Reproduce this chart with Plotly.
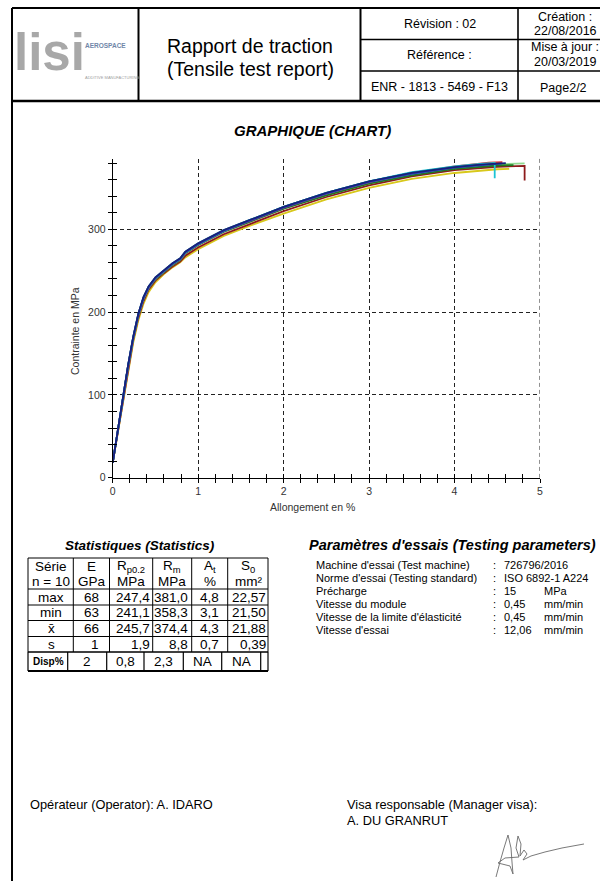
import plotly.graph_objects as go

W, H = 600, 881
FONT = "Liberation Sans, Arial, sans-serif"


def X(px):
    return px / W


def Y(py):
    return 1 - py / H


# ---------------------------------------------------------------- curve data
# Elongation grid (%) shared by the specimens
STRAIN = [0, 0.06, 0.12, 0.18, 0.24, 0.30, 0.36, 0.42, 0.50, 0.60, 0.70,
          0.79, 0.85, 1.0, 1.3, 1.6, 2.0, 2.5, 3.0, 3.5, 4.0]

# Stress (MPa) of each specimen on STRAIN, followed by its end of test
YELLOW = [18, 55, 93, 130, 163, 190, 210, 224, 236, 246, 254, 260, 266, 276,
          292, 304, 319, 336, 350, 361, 368]
YELLOW_END_X = [4.5, 4.64]
YELLOW_END_Y = [372.5, 373]

MAROON = [18, 56, 95, 133, 166, 193, 213, 227, 238, 247, 255, 261, 268, 278,
          294, 306, 322, 339, 353, 364, 371.5]
MAROON_END_X = [4.5, 4.82, 4.82]
MAROON_END_Y = [375.5, 376.5, 359]

PINK = [18, 56, 95, 133, 167, 194, 214, 228, 239, 248, 256, 262, 269, 280,
        296, 308, 325, 342]
PINK_END_X = [3.0, 3.1]
PINK_END_Y = [356.5, 358.3]

LIGHTGREEN = [18, 57, 96, 134, 168, 196, 216, 229, 240, 249, 257, 263, 271,
              281, 297, 309, 325, 342, 356, 366, 374]
LIGHTGREEN_END_X = [4.5, 4.82]
LIGHTGREEN_END_Y = [378.5, 379.5]

GREEN = [18, 57, 96, 134, 168, 196, 216, 229, 240, 249, 257, 263, 271, 281,
         297, 309, 325, 341, 355, 365, 373]
GREEN_END_X = [4.5, 4.69]
GREEN_END_Y = [377, 377.5]

RED = [18, 58, 97, 135, 169, 197, 217, 230, 241, 250, 258, 264, 272, 282,
       298, 310, 326, 343, 357, 368, 376]
RED_END_X = [4.4, 4.56]
RED_END_Y = [380.5, 381]

CYAN = [18, 57, 97, 135, 169, 197, 217, 230, 241, 250, 258, 264, 272, 282,
        298, 311, 327, 344, 358, 369, 376]
CYAN_END_X = [4.3, 4.47, 4.47]
CYAN_END_Y = [379, 380, 361.6]

TEAL = [18, 58, 98, 136, 170, 198, 218, 231, 242, 251, 259, 265, 273, 283,
        299, 311, 327, 344, 358, 368, 375.5]
TEAL_END_X = [4.3]
TEAL_END_Y = [378]

BLUE = [18, 57, 97, 135, 169, 197, 217, 230, 241, 250, 258, 264, 272, 282,
        298, 310, 326, 343, 357, 367, 374.5]
BLUE_END_X = [4.5, 4.55]
BLUE_END_Y = [379, 379.3]

NAVY = [18, 58, 98, 136, 170, 198, 218, 231, 242, 251, 259, 265, 273, 283,
        299, 311, 327, 344, 358, 368, 375]
NAVY_END_X = [4.3, 4.5, 4.6]
NAVY_END_Y = [378, 379.5, 380]

# ---------------------------------------------------------------- statistics
STAT_ROWS = ["max", "min", "x\u0304", "s"]
STAT_E = [68, 63, 66, 1]
STAT_RP02 = [247.4, 241.1, 245.7, 1.9]
STAT_RM = [381.0, 358.3, 374.4, 8.8]
STAT_AT = [4.8, 3.1, 4.3, 0.7]
STAT_S0 = [22.57, 21.50, 21.88, 0.39]
DISP = ["2", "0,8", "2,3", "NA", "NA"]

HEAD_TOP = ["Série", "E", "R<sub>p0.2</sub>", "R<sub>m</sub>", "A<sub>t</sub>", "S<sub>0</sub>"]
HEAD_BOT = ["n = 10", "GPa", "MPa", "MPa", "%", "mm²"]

# ---------------------------------------------------------------- parameters
PARAM_LABELS = ["Machine d'essai (Test machine)", "Norme d'essai (Testing standard)",
                "Précharge", "Vitesse du module",
                "Vitesse de la limite d'élasticité", "Vitesse d'essai"]
PARAM_VALUES = ["726796/2016", "ISO 6892-1 A224", "15", "0,45", "0,45", "12,06"]
PARAM_UNITS = ["", "", "MPa", "mm/min", "mm/min", "mm/min"]

# ---------------------------------------------------------------- figure
fig = go.Figure()

specimens = [
    (YELLOW, YELLOW_END_X, YELLOW_END_Y, "#d8c81a"),
    (PINK, PINK_END_X, PINK_END_Y, "#e4b9c6"),
    (MAROON, MAROON_END_X, MAROON_END_Y, "#8e1b1b"),
    (LIGHTGREEN, LIGHTGREEN_END_X, LIGHTGREEN_END_Y, "#8fd98f"),
    (GREEN, GREEN_END_X, GREEN_END_Y, "#207a20"),
    (RED, RED_END_X, RED_END_Y, "#d83030"),
    (CYAN, CYAN_END_X, CYAN_END_Y, "#1cc4d4"),
    (TEAL, TEAL_END_X, TEAL_END_Y, "#0c8c9c"),
    (BLUE, BLUE_END_X, BLUE_END_Y, "#2b44c2"),
    (NAVY, NAVY_END_X, NAVY_END_Y, "#18207a"),
]
for stress, end_x, end_y, color in specimens:
    fig.add_trace(go.Scatter(
        x=STRAIN[:len(stress)] + end_x, y=stress + end_y,
        mode="lines", line=dict(color=color, width=1.8),
        hoverinfo="skip", showlegend=False))

# helper trace carrying the inner half of the crossing ticks
fig.add_trace(go.Scatter(x=[0], y=[0], xaxis="x2", yaxis="y2", mode="markers",
                         marker=dict(opacity=0), hoverinfo="skip", showlegend=False))

x_dom = [X(112.7), X(540)]
y_dom = [Y(477.7), Y(158.9)]
x_rng = [0, 5]
y_rng = [0, 385]
tick_font = dict(family=FONT, size=10.5, color="#333")
grid_dash = "4px,3px"

fig.update_layout(
    width=W, height=H, margin=dict(l=0, r=0, t=0, b=0),
    paper_bgcolor="white", plot_bgcolor="rgba(0,0,0,0)",
    font=dict(family=FONT, color="black"),
    xaxis=dict(domain=x_dom, range=x_rng, anchor="y", showline=True, linecolor="black",
               linewidth=1, ticks="outside", ticklen=4, tickwidth=1, tickcolor="black",
               tick0=0, dtick=1, tickfont=tick_font,
               minor=dict(tick0=0, dtick=0.2, ticks="outside", ticklen=4, tickcolor="black",
                          showgrid=False),
               showgrid=True, gridcolor="#222", griddash=grid_dash, gridwidth=1,
               zeroline=False, automargin=False, fixedrange=True),
    yaxis=dict(domain=y_dom, range=y_rng, anchor="x", showline=True, linecolor="black",
               linewidth=1, ticks="outside", ticklen=4, tickwidth=1, tickcolor="black",
               tick0=0, dtick=100, tickfont=tick_font,
               minor=dict(tick0=0, dtick=20, ticks="outside", ticklen=4, tickcolor="black",
                          showgrid=False),
               showgrid=True, gridcolor="#222", griddash=grid_dash, gridwidth=1,
               zeroline=False, automargin=False, fixedrange=True),
    xaxis2=dict(domain=x_dom, range=x_rng, anchor="y2", overlaying="x", side="bottom",
                ticks="inside", ticklen=4, tickcolor="black", tick0=0, dtick=1,
                minor=dict(tick0=0, dtick=0.2, ticks="inside", ticklen=4, tickcolor="black"),
                showticklabels=False, showgrid=False, zeroline=False, showline=False,
                automargin=False, fixedrange=True),
    yaxis2=dict(domain=y_dom, range=y_rng, anchor="x2", overlaying="y", side="left",
                ticks="inside", ticklen=4, tickcolor="black", tick0=0, dtick=100,
                minor=dict(tick0=0, dtick=20, ticks="inside", ticklen=4, tickcolor="black"),
                showticklabels=False, showgrid=False, zeroline=False, showline=False,
                automargin=False, fixedrange=True),
)

shapes = []
annotations = []

# dashed right-hand border of the plot area at the last elongation gridline
shapes.append(dict(type="line", xref="x", yref="paper", x0=x_rng[1], x1=x_rng[1],
                   y0=y_dom[1], y1=y_dom[0], layer="below",
                   line=dict(color="#222", width=1, dash=grid_dash)))


def hline(y, x0, x1, w=1.0, color="black"):
    shapes.append(dict(type="line", xref="paper", yref="paper", x0=X(x0), x1=X(x1),
                       y0=Y(y), y1=Y(y), line=dict(color=color, width=w)))


def vline(x, y0, y1, w=1.0, color="black"):
    shapes.append(dict(type="line", xref="paper", yref="paper", x0=X(x), x1=X(x),
                       y0=Y(y0), y1=Y(y1), line=dict(color=color, width=w)))


def text(x, y, s, size, anchor="center", color="black", angle=0):
    annotations.append(dict(xref="paper", yref="paper", x=X(x), y=Y(y), text=s,
                            showarrow=False, xanchor=anchor, yanchor="middle",
                            textangle=angle, borderpad=0,
                            font=dict(family=FONT, size=size, color=color)))


# ---------------- header block
hline(8, 12, 600, 2)
hline(101, 12, 600, 2.5)
vline(12, 8, 881, 2)
vline(138.5, 8, 101, 2)
vline(360.5, 8, 101, 2)
vline(518, 8, 101, 1.6)
hline(39.5, 360.5, 600, 1.6)
hline(71, 360.5, 600, 1.6)

text(13, 52, "<b>lisi</b>", 51, anchor="left", color="#a8a8a8")
text(84, 46, "<b>AEROSPACE</b>", 6.5, anchor="left", color="#7086a8")
text(84, 77.5, "ADDITIVE MANUFACTURING", 4, anchor="left", color="#a0a0a0")

text(250, 46, "Rapport de traction", 19.5)
text(250, 68.5, "(Tensile test report)", 19.5)
text(439.5, 24, "Révision : 02", 12.5)
text(439.5, 55.5, "Référence :", 12.5)
text(439.5, 87, "ENR - 1813 - 5469 - F13", 12.5)
text(565, 16.5, "Création :", 12.5)
text(565, 31, "22/08/2016", 12.5)
text(565, 47.5, "Mise à jour :", 12.5)
text(565, 62.5, "20/03/2019", 12.5)
text(563, 88, "Page2/2", 12.5)

# ---------------- chart titles
text(312, 130, "<b><i>GRAPHIQUE (CHART)</i></b>", 15)
text(312, 507, "Allongement en %", 10.5, color="#333")
text(75, 331, "Contrainte en MPa", 10.5, color="#333", angle=-90)

# ---------------- statistics table
text(140, 545, "<b><i>Statistiques (Statistics)</i></b>", 13.5)
col_x = [28, 73.3, 109.5, 152.7, 191.7, 227.7, 268]
row_y = [558, 589, 605, 620.5, 636.5, 652]
for cx in col_x:
    vline(cx, 558, 652, 1)
for ry in row_y:
    hline(ry, 28, 268, 1)
head_cx = [51, 91.5, 131, 172, 210, 248]
for cx, top, bot in zip(head_cx, HEAD_TOP, HEAD_BOT):
    text(cx, 566, top, 13.5)
    text(cx, 581.5, bot, 13.5)

row_cy = [597.5, 612.7, 628.5, 644.5]


def fmt(v, d):
    return f"{v:.{d}f}".replace(".", ",")


value_cols = [(STAT_E, 0, 100), (STAT_RP02, 1, 151), (STAT_RM, 1, 188.5),
              (STAT_AT, 1, 220), (STAT_S0, 2, 266.5)]
for i, cy in enumerate(row_cy):
    text(51, cy, STAT_ROWS[i], 13.5)
    for values, dec, rx in value_cols:
        text(rx, cy, fmt(values[i], dec), 13.5, anchor="right")

disp_x = [28, 67.7, 106.7, 144, 183.3, 221.7, 260.7, 268]
for dx in disp_x:
    vline(dx, 652, 671, 1.2)
hline(652, 28, 268, 1.2)
hline(671, 28, 268, 2)
text(48, 661.5, "<b>Disp%</b>", 10)
for j, s in enumerate(DISP):
    text((disp_x[j + 1] + disp_x[j + 2]) / 2, 661.5, s, 13.5)

# ---------------- testing parameters
text(452.5, 545, "<b><i>Paramètres d'essais (Testing parameters)</i></b>", 14.5)
param_y = [565, 578, 591, 604, 617, 630]
for py, lab, val, unit in zip(param_y, PARAM_LABELS, PARAM_VALUES, PARAM_UNITS):
    text(315, py, lab, 11, anchor="left")
    text(492, py, ":", 11, anchor="left")
    text(503, py, val, 11, anchor="left")
    if unit:
        text(543, py, unit, 11, anchor="left")

# ---------------- signatures
text(29, 804, "Opérateur (Operator): A. IDARO", 12.8, anchor="left")
text(346, 804, "Visa responsable (Manager visa):", 12.8, anchor="left")
text(346, 820, "A. DU GRANRUT", 12.8, anchor="left")

sig_pts = [(496, 877), (500, 862), (504, 848), (508, 835), (511, 848), (512, 862),
           (513, 874), (510, 866), (498, 863), (505, 858), (519, 857), (516, 848),
           (518, 836), (521, 844), (520, 856), (524, 850), (527, 854), (523, 860),
           (531, 856), (545, 852), (562, 848), (584, 844)]
path = "M " + " L ".join(f"{X(px):.5f},{Y(py):.5f}" for px, py in sig_pts)
shapes.append(dict(type="path", xref="paper", yref="paper", path=path,
                   line=dict(color="#6a6a6a", width=0.9)))

fig.update_layout(shapes=shapes, annotations=annotations)
fig.write_html("out.html")
